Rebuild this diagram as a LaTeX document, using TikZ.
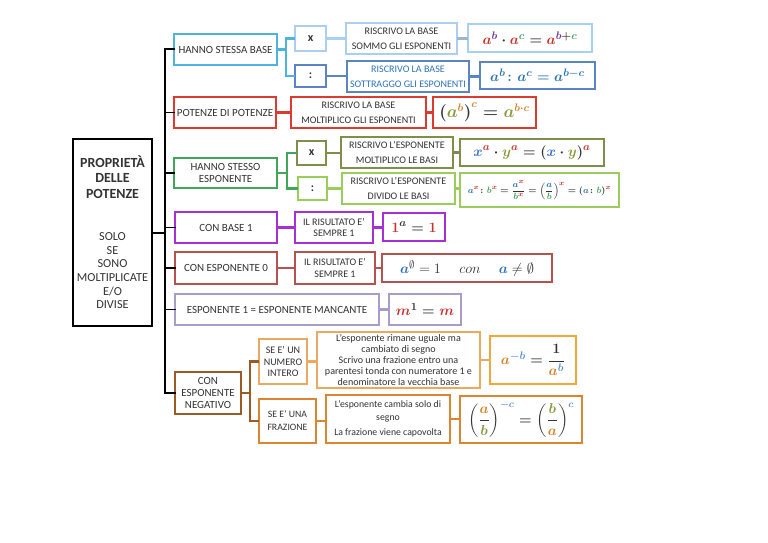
\documentclass[tikz,border=0pt]{standalone}
\usepackage{amsmath,amssymb}
\usepackage{fontspec}
\setmainfont{Carlito}
\definecolor{cSkyA}{HTML}{4FB3E0}
\definecolor{cSkyB}{HTML}{A9CFF2}
\definecolor{cBlue}{HTML}{5B84C4}
\definecolor{cRed}{HTML}{DD3A30}
\definecolor{cGreen}{HTML}{3FA65A}
\definecolor{cOlive}{HTML}{7F8F4A}
\definecolor{cLime}{HTML}{9ACD5A}
\definecolor{cPurple}{HTML}{A62FD8}
\definecolor{cBrick}{HTML}{B5524E}
\definecolor{cLav}{HTML}{A99CC8}
\definecolor{cBrown}{HTML}{9A5B25}
\definecolor{cPeach}{HTML}{EBA860}
\definecolor{cAmber}{HTML}{F0A838}
\definecolor{cDark}{HTML}{DD8430}
\definecolor{tx}{HTML}{333333}
\definecolor{mRed}{HTML}{C8322B}
\definecolor{mPur}{HTML}{7030A0}
\definecolor{mGrn}{HTML}{3FA65A}
\definecolor{mBlu}{HTML}{2E75B6}
\definecolor{mOli}{HTML}{8A9A3C}
\definecolor{mOrg}{HTML}{D9822B}
\definecolor{mSky}{HTML}{5B8FD0}
\definecolor{mVio}{HTML}{3B6FD0}
\tikzset{
  boxn/.style={draw,fill=white,line width=2pt,inner sep=0pt,outer sep=0pt,align=center,text=tx,
    font=\fontsize{10.1}{15}\selectfont},
  bigt/.style={font=\fontsize{11}{13}\selectfont},
  tight/.style={font=\fontsize{10.1}{11.2}\selectfont},
  mathn/.style={boxn,font=\fontsize{#1}{18}\selectfont\boldmath},
  conn/.style={draw=#1,line width=2.2pt},
  spn/.style={draw=black,line width=2pt,line cap=rect}
}
\newcommand{\bx}[7][]{\node[boxn,#1,draw=#7,minimum width={(#4-#2)*1bp},minimum height={(#5-#3)*1bp}] (#6) at ({(#2+#4)/2},{(#3+#5)/2})}
\newcommand{\hue}[2]{\textcolor{#1}{#2}}
\newcommand{\ttl}{\fontsize{14}{13.7}\selectfont\bfseries}
\newcommand{\sml}{\fontsize{12.3}{13.7}\selectfont\mdseries}
\begin{document}
\begin{tikzpicture}[x=1bp,y=-1bp]
\useasboundingbox (0,0) rectangle (768,543);
\fill[white] (0,0) rectangle (768,543);
\coordinate (spT) at (165,49);
\coordinate (spB) at (165,393);
\coordinate (spM) at (165,233);
\bx[font=\fontsize{12.3}{13.7}\selectfont]{73}{139}{152}{326}{main}{black}{\ttl PROPRIETÀ\\[1.5pt]\ttl DELLE\\[1.5pt]\ttl POTENZE\\[29pt]\sml SOLO\\\sml SE\\\sml SONO\\\sml MOLTIPLICATE\\\sml E/O\\\sml DIVISE};
\bx[bigt]{174}{34}{277}{65}{hb}{cSkyA}{HANNO STESSA BASE};
\bx{295}{26}{326}{51}{hx}{cSkyB}{\textbf{\fontsize{12}{12}\selectfont x}};
\bx{346}{23}{457}{54}{hs}{cSkyB}{RISCRIVO LA BASE\\SOMMO GLI ESPONENTI};
\bx[mathn=15.5]{468}{24}{592}{52}{hf}{cSkyB}{$\hue{mRed}{a}^{\hue{mPur}{b}}\cdot\hue{mRed}{a}^{\hue{mGrn}{c}}=\hue{mRed}{a}^{\hue{mPur}{b}+\hue{mGrn}{c}}$};
\bx{295}{65}{326}{87}{hd}{cBlue}{\textbf{\fontsize{12}{12}\selectfont :}};
\bx{347}{61}{469}{92}{hr}{cBlue}{\textcolor{mBlu}{RISCRIVO LA BASE}\\\textcolor{mBlu}{SOTTRAGGO GLI ESPONENTI}};
\bx[mathn=15]{480}{62}{595}{89}{hg}{cBlue}{\color{mBlu}$a^{b}\colon a^{c}=a^{b-c}$};
\bx[bigt]{174}{97}{276}{128}{pp}{cRed}{POTENZE DI POTENZE};
\bx{291}{97}{426}{128}{pm}{cRed}{RISCRIVO LA BASE\\MOLTIPLICO GLI ESPONENTI};
\bx[mathn=16]{433}{97}{536}{128}{pf}{cRed}{$\left(\hue{mOli}{a}^{\hue{mOrg}{b}}\right)^{\hue{mOrg}{c}}=\hue{mOli}{a}^{\hue{mOrg}{b\cdot c}}$};
\bx[bigt]{174}{158}{277}{188}{he}{cGreen}{HANNO STESSO\\ESPONENTE};
\bx{297}{141}{326}{165}{ex}{cOlive}{\textbf{\fontsize{12}{12}\selectfont x}};
\bx{341}{137}{453}{168}{em}{cOlive}{RISCRIVO L'ESPONENTE\\MOLTIPLICO LE BASI};
\bx[mathn=15]{460}{139}{604}{166}{ef}{cOlive}{$\hue{mVio}{x}^{\hue{mRed}{a}}\cdot\hue{mOli}{y}^{\hue{mRed}{a}}=(\hue{mVio}{x}\cdot\hue{mOli}{y})^{\hue{mRed}{a}}$};
\bx{298}{177}{327}{200}{ed}{cLime}{\textbf{\fontsize{12}{12}\selectfont :}};
\bx{342}{173}{455}{204}{ev}{cLime}{RISCRIVO L'ESPONENTE\\DIVIDO LE BASI};
\bx[mathn=9.3]{460}{173}{619}{207}{eg}{cLime}{$\hue{mBlu}{a}^{\hue{mRed}{x}}\colon\hue{mGrn}{b}^{\hue{mRed}{x}}=\dfrac{\hue{mBlu}{a}^{\hue{mRed}{x}}}{\hue{mGrn}{b}^{\hue{mRed}{x}}}=\left(\dfrac{\hue{mBlu}{a}}{\hue{mGrn}{b}}\right)^{\hue{mRed}{x}}=(\hue{mBlu}{a}\colon\hue{mGrn}{b})^{\hue{mRed}{x}}$};
\bx[bigt]{175}{212}{277}{243}{ba}{cPurple}{CON BASE 1};
\bx[tight]{295}{212}{373}{243}{br}{cPurple}{IL RISULTATO E'\\SEMPRE 1};
\bx[mathn=15]{383}{213}{445}{241}{bf}{cPurple}{$\hue{mRed}{1}^{a}=\hue{mRed}{1}$};
\bx[bigt]{175}{252}{277}{284}{ze}{cBrick}{CON ESPONENTE 0};
\bx[tight]{295}{252}{375}{284}{zr}{cBrick}{IL RISULTATO E'\\SEMPRE 1};
\bx[mathn=15,font=\fontsize{15}{18}\selectfont\unboldmath]{382}{254}{552}{282}{zf}{cBrick}{$\hue{mBlu}{\boldsymbol{a}}^{\emptyset}=1\quad\ con\quad\ \hue{mBlu}{\boldsymbol{a}}\neq\emptyset$};
\bx[bigt]{175}{294}{379}{325}{un}{cLav}{ESPONENTE 1 = ESPONENTE MANCANTE};
\bx[mathn=15.5]{389}{294}{461}{325}{uf}{cLav}{$\hue{mRed}{m}^{1}=\hue{mRed}{m}$};
\bx[font=\fontsize{11}{11.6}\selectfont]{175}{372}{241}{414}{ng}{cBrown}{CON\\ESPONENTE\\NEGATIVO};
\bx[tight]{259}{339}{307}{384}{ni}{cPeach}{SE E' UN\\NUMERO\\INTERO};
\bx[tight]{317}{332}{480}{388}{nt}{cPeach}{L'esponente rimane uguale ma\\cambiato di segno\\Scrivo una frazione entro una\\parentesi tonda con numeratore 1 e\\denominatore la vecchia base};
\bx[mathn=15]{490}{336}{576}{384}{nf}{cAmber}{$\hue{mOrg}{a}^{\hue{mSky}{-b}}=\dfrac{1}{\hue{mOrg}{a}^{\hue{mSky}{b}}}$};
\bx[font=\fontsize{9.8}{13}\selectfont]{259}{399}{316}{443}{nq}{cDark}{SE E' UNA\\FRAZIONE};
\bx[font=\fontsize{9.8}{13}\selectfont]{326}{395}{450}{443}{nc}{cDark}{L'esponente cambia solo di\\segno\\[2pt]La frazione viene capovolta};
\bx[mathn=14]{460}{396}{582}{443}{nh}{cDark}{$\left(\dfrac{\hue{mOrg}{a}}{\hue{mOli}{b}}\right)^{\hue{mSky}{-c}}=\left(\dfrac{\hue{mOli}{b}}{\hue{mOrg}{a}}\right)^{\hue{mSky}{c}}$};
% spine
\draw[spn] (spT) -- (spB) -- (spB -| ng.west);
\draw[spn] (spT) -- (spT -| hb.west);
\foreach \n in {pp,he,ba,ze,un} \draw[spn] (\n.west) -- (\n.west -| spT);
\draw[spn] (spM -| main.east) -- (spM);
% branches
\draw[conn=cSkyA] (hb.east) -- ++(9,0) |- (hx.west);
\draw[conn=cSkyA] (hb.east) -- ++(9,0) |- (hd.west);
\draw[conn=cSkyB] (hx.east) -- (hx.east -| hs.west);
\draw[conn=cSkyB!70!gray] (hs.east) -- (hs.east -| hf.west);
\draw[conn=cBlue] (hd.east) -- (hd.east -| hr.west);
\draw[conn=cBlue] (hr.east) -- (hr.east -| hg.west);
\draw[conn=cRed] (pp.east) -- (pp.east -| pm.west);
\draw[conn=cRed] (pm.east) -- (pm.east -| pf.west);
\draw[conn=cGreen] (he.east) -- ++(10,0) |- (ex.west);
\draw[conn=cGreen] (he.east) -- ++(10,0) |- (ed.west);
\draw[conn=cOlive] (ex.east) -- (ex.east -| em.west);
\draw[conn=cOlive!70!gray] (em.east) -- (em.east -| ef.west);
\draw[conn=cLime] (ed.east) -- (ed.east -| ev.west);
\draw[conn=cLime] (ev.east) -- (ev.east -| eg.west);
\draw[conn=cPurple] (ba.east) -- (ba.east -| br.west);
\draw[conn=cPurple] (br.east) -- (br.east -| bf.west);
\draw[conn=cBrick] (ze.east) -- (ze.east -| zr.west);
\draw[conn=cBrick] (zr.east) -- (zr.east -| zf.west);
\draw[conn=cLav] (un.east) -- (un.east -| uf.west);
\draw[conn=cBrown] (ng.east) -- ++(9,0) |- (ni.west);
\draw[conn=cBrown] (ng.east) -- ++(9,0) |- (nq.west);
\draw[conn=cPeach] (ni.east) -- (ni.east -| nt.west);
\draw[conn=cPeach] (nt.east) -- (nt.east -| nf.west);
\draw[conn=cDark] (nq.east) -- (nq.east -| nc.west);
\draw[conn=cDark] (nc.east) -- (nc.east -| nh.west);
\end{tikzpicture}
\end{document}
